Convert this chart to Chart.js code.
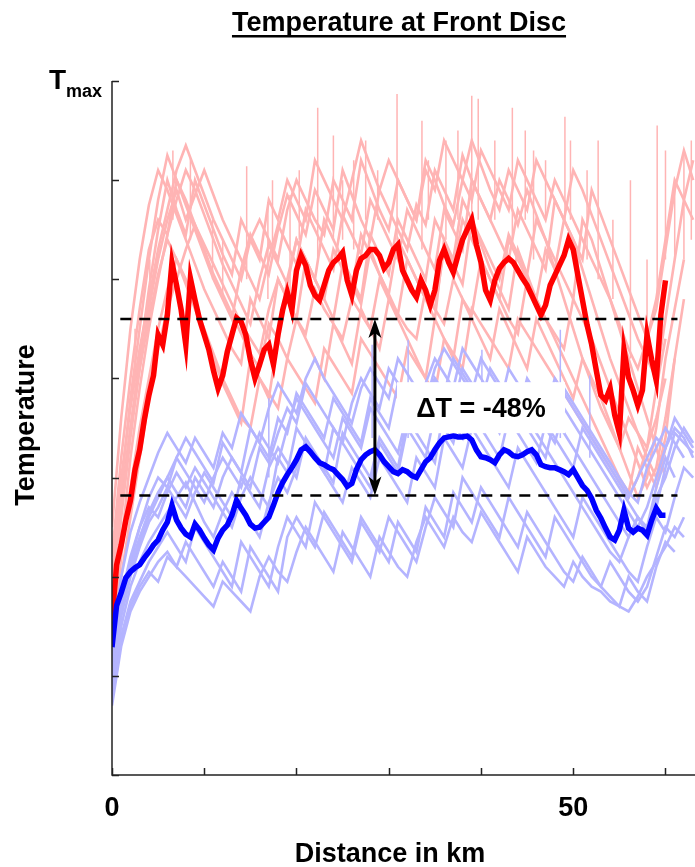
<!DOCTYPE html>
<html>
<head>
<meta charset="utf-8">
<script src="https://cdn.jsdelivr.net/npm/chart.js@4.4.0/dist/chart.umd.min.js"></script>
<style>
    html, body { margin: 0; padding: 0; background: #ffffff; }
    canvas { display: block; }
</style>
</head>
<body>
<canvas id="frontDiscChart" width="695" height="867"></canvas>
<script>
// ---- distance grids (km) ----
const distFine = [
    0, 0.5, 1, 1.5, 2, 2.5, 3, 3.5, 4, 4.5, 5, 5.5, 6, 6.5, 7, 7.5, 8, 8.5, 9, 9.5,
    10, 10.5, 11, 11.5, 12, 12.5, 13, 13.5, 14, 14.5, 15, 15.5, 16, 16.5, 17, 17.5, 18, 18.5, 19, 19.5,
    20, 20.5, 21, 21.5, 22, 22.5, 23, 23.5, 24, 24.5, 25, 25.5, 26, 26.5, 27, 27.5, 28, 28.5, 29, 29.5,
    30, 30.5, 31, 31.5, 32, 32.5, 33, 33.5, 34, 34.5, 35, 35.5, 36, 36.5, 37, 37.5, 38, 38.5, 39, 39.5,
    40, 40.5, 41, 41.5, 42, 42.5, 43, 43.5, 44, 44.5, 45, 45.5, 46, 46.5, 47, 47.5, 48, 48.5, 49, 49.5,
    50, 50.5, 51, 51.5, 52, 52.5, 53, 53.5, 54, 54.5, 55, 55.5, 56, 56.5, 57, 57.5, 58, 58.5, 59, 59.5,
    60,
];
const distKm = [
    0, 1, 2, 3, 4, 5, 6, 7, 8, 9, 10, 11, 12, 13, 14, 15, 16, 17, 18, 19,
    20, 21, 22, 23, 24, 25, 26, 27, 28, 29, 30, 31, 32, 33, 34, 35, 36, 37, 38, 39,
    40, 41, 42, 43, 44, 45, 46, 47, 48, 49, 50, 51, 52, 53, 54, 55, 56, 57, 58, 59,
    60, 61, 62, 63,
];

// ---- highlighted runs (temperature, T_max = 700) ----
const redMain = [
    156, 212, 232, 257, 277, 308, 328, 358, 383, 403,
    444, 434, 464, 517, 494, 469, 434, 501, 479, 459,
    444, 429, 408, 390, 403, 427, 444, 461, 457, 444,
    419, 400, 414, 429, 434, 414, 444, 469, 487, 469,
    509, 524, 514, 494, 484, 479, 494, 509, 517, 521,
    527, 499, 484, 509, 521, 524, 530, 530, 524, 511,
    517, 530, 535, 509, 499, 489, 482, 499, 489, 474,
    489, 519, 530, 517, 507, 524, 540, 550, 560, 535,
    517, 489, 479, 499, 511, 517, 521, 517, 509, 501,
    494, 484, 474, 464, 474, 494, 504, 514, 524, 540,
    530, 504, 479, 454, 434, 408, 383, 378, 390, 363,
    345, 429, 401, 388, 373, 388, 444, 419, 398, 464,
    499,
];
const blueMain = [
    129, 171, 184, 199, 205, 209, 212, 219, 225, 232,
    237, 247, 255, 272, 257, 249, 243, 240, 253, 247,
    239, 232, 227, 239, 247, 252, 262, 277, 269, 262,
    253, 249, 250, 255, 260, 272, 285, 295, 303, 310,
    318, 328, 331, 326, 320, 315, 313, 310, 308, 303,
    298, 291, 294, 308, 318, 323, 326, 328, 323, 316,
    311, 306, 304, 308, 306, 302, 300, 308, 316, 320,
    328, 335, 340, 341, 342, 341, 341, 342, 338, 328,
    321, 320, 318, 315, 323, 328, 326, 322, 321, 323,
    326, 328, 323, 313, 311, 310, 310, 308, 306, 303,
    308, 300, 292, 287, 279, 267, 259, 249, 240, 237,
    247, 267, 249, 245, 249, 247, 242, 257, 269, 262,
    262,
];

// ---- other runs, conventional disc (per km) ----
const redRun1 = [
    180, 290, 380, 450, 520, 580, 625, 600, 575, 550,
    525, 500, 480, 460, 510, 545, 525, 505, 550, 585,
    565, 545, 590, 570, 550, 610, 585, 560, 540, 590,
    570, 550, 530, 575, 555, 610, 590, 570, 625, 600,
    580, 560, 600, 580, 555, 590, 565, 540, 510, 480,
    450, 420, 395, 370, 350, 330, 360, 345, 330, 390,
    440,
];
const redRun2 = [
    140, 230, 320, 390, 450, 500, 545, 580, 610, 590,
    565, 540, 515, 495, 475, 455, 500, 535, 515, 495,
    540, 520, 500, 480, 530, 510, 490, 545, 525, 505,
    485, 540, 520, 500, 480, 470, 530, 510, 560, 540,
    520, 500, 480, 540, 520, 500, 480, 530, 510, 560,
    540, 510, 480, 450, 420, 395, 370, 345, 320, 300,
    340, 420, 480,
];
const redRun3 = [
    250, 360, 450, 520, 575, 610, 590, 565, 540, 515,
    490, 470, 450, 430, 415, 480, 460, 440, 500, 480,
    460, 520, 500, 480, 460, 515, 495, 475, 530, 505,
    485, 465, 520, 500, 480, 460, 540, 515, 495, 560,
    535, 510, 490, 470, 530, 505, 480, 460, 440, 420,
    400, 380, 360, 340, 320, 300, 285, 330, 310, 290,
    330,
];
const redRun4 = [
    200, 300, 370, 430, 480, 530, 570, 610, 635, 610,
    585, 560, 540, 520, 500, 540, 560, 540, 520, 570,
    600, 580, 560, 545, 600, 580, 560, 620, 595, 570,
    550, 600, 580, 560, 620, 600, 575, 555, 600, 640,
    615, 590, 570, 610, 590, 570, 620, 600, 580, 560,
    610, 590, 565, 540, 515, 490, 465, 440, 420, 400,
    460, 520, 580, 620,
];
const redRun5 = [
    120, 200, 260, 320, 380, 430, 470, 500, 530, 555,
    535, 515, 495, 475, 455, 440, 425, 470, 500, 480,
    460, 445, 490, 470, 455, 440, 480, 465, 450, 500,
    480, 465, 450, 440, 490, 470, 455, 500, 480, 465,
    520, 500, 480, 460, 445, 500, 480, 460, 445, 430,
    480, 460, 440, 415, 390, 365, 340, 315, 290, 310,
    360, 420,
];
const redRun6 = [
    160, 260, 340, 410, 470, 520, 560, 590, 560, 585,
    610, 585, 560, 540, 520, 500, 480, 520, 555, 535,
    515, 570, 550, 530, 510, 565, 545, 525, 580, 560,
    540, 520, 570, 550, 530, 510, 570, 550, 530, 600,
    580, 560, 540, 520, 570, 550, 530, 510, 580, 560,
    540, 520, 590, 565, 540, 515, 490, 465, 440, 470,
    530, 590, 630, 600,
];
const redRun7 = [
    220, 320, 400, 470, 530, 560, 545, 600, 580, 555,
    530, 505, 485, 465, 445, 425, 410, 455, 440, 500,
    540, 520, 500, 560, 540, 520, 500, 480, 545, 525,
    505, 560, 540, 520, 500, 560, 540, 520, 580, 560,
    540, 520, 500, 545, 525, 505, 560, 540, 520, 500,
    480, 560, 540, 510, 480, 450, 420, 390, 360, 330,
    300,
];
const redRun8 = [
    170, 270, 350, 420, 490, 550, 600, 570, 545, 600,
    575, 550, 525, 505, 560, 540, 520, 580, 560, 600,
    580, 560, 620, 600, 580, 560, 600, 640, 615, 590,
    620, 600, 580, 560, 610, 590, 640, 620, 600, 580,
    630, 610, 590, 570, 620, 600, 580, 560, 600, 580,
    560, 540, 520, 500, 480, 455, 430, 410, 440, 480,
    540, 600, 580, 560,
];
const redRun9 = [
    130, 220, 290, 350, 400, 450, 490, 520, 500, 475,
    450, 425, 400, 380, 360, 350, 400, 385, 370, 420,
    405, 390, 375, 430, 415, 400, 385, 440, 425, 410,
    395, 380, 430, 415, 400, 385, 440, 425, 410, 470,
    455, 440, 425, 410, 460, 445, 430, 415, 400, 385,
    370, 355, 340, 325, 310, 295, 280, 300, 330, 360,
    400,
];
const redRun10 = [
    190, 280, 350, 410, 460, 505, 540, 520, 495, 470,
    445, 420, 395, 375, 355, 420, 400, 380, 440, 420,
    460, 440, 420, 400, 455, 435, 415, 470, 450, 430,
    480, 460, 440, 420, 400, 460, 440, 420, 480, 460,
    440, 420, 470, 450, 430, 410, 460, 440, 420, 400,
    380, 420, 400, 380, 355, 330, 305, 280, 300, 350,
    420, 470, 520,
];

// ---- other runs, new disc (per km) ----
const blueRun1 = [
    110, 170, 210, 240, 265, 285, 300, 320, 305, 290,
    275, 300, 320, 305, 290, 320, 345, 330, 315, 350,
    380, 365, 350, 335, 320, 360, 345, 330, 370, 355,
    340, 325, 365, 350, 380, 400, 385, 370, 410, 395,
    380, 365, 350, 390, 375, 360, 345, 330, 315, 300,
    285, 270, 255, 240, 225, 215, 240, 260, 250, 290,
    320, 300,
];
const blueRun2 = [
    90, 150, 190, 215, 235, 250, 265, 280, 295, 275,
    255, 240, 265, 285, 270, 255, 240, 275, 300, 285,
    310, 335, 320, 305, 290, 275, 310, 295, 280, 320,
    305, 290, 275, 320, 305, 290, 340, 325, 310, 350,
    335, 320, 305, 290, 330, 315, 300, 285, 270, 255,
    240, 280, 265, 250, 235, 220, 205, 195, 230, 260,
    245, 280, 310, 300,
];
const blueRun3 = [
    130, 200, 245, 275, 300, 325, 345, 330, 315, 340,
    325, 310, 345, 330, 365, 350, 335, 370, 395, 380,
    365, 400, 420, 400, 385, 370, 355, 390, 410, 395,
    380, 420, 405, 390, 375, 410, 430, 415, 400, 385,
    420, 405, 390, 375, 360, 395, 380, 365, 400, 385,
    370, 355, 340, 325, 310, 295, 280, 300, 320, 340,
    330, 350, 340, 320,
];
const blueRun4 = [
    70, 130, 165, 185, 200, 215, 225, 210, 235, 220,
    205, 190, 215, 200, 185, 230, 215, 200, 185, 240,
    260, 245, 230, 265, 250, 235, 220, 260, 245, 230,
    215, 255, 240, 225, 270, 255, 240, 285, 270, 255,
    290, 275, 260, 245, 230, 265, 250, 235, 220, 205,
    195, 220, 205, 190, 180, 170, 200, 185, 175, 210,
    235, 225,
];
const blueRun5 = [
    100, 160, 200, 230, 255, 270, 290, 275, 260, 285,
    305, 290, 275, 260, 300, 285, 270, 310, 330, 315,
    300, 340, 325, 310, 295, 345, 330, 315, 300, 340,
    325, 310, 360, 345, 330, 315, 370, 355, 340, 390,
    375, 360, 345, 380, 365, 350, 335, 320, 360, 345,
    330, 315, 300, 285, 270, 255, 240, 260, 245, 280,
    300, 330, 350, 335,
];
const blueRun6 = [
    120, 180, 220, 250, 280, 300, 290, 320, 340, 325,
    310, 295, 335, 320, 305, 350, 335, 320, 360, 345,
    385, 370, 355, 340, 380, 365, 350, 335, 380, 365,
    350, 395, 380, 365, 350, 400, 385, 420, 405, 390,
    375, 410, 395, 380, 365, 400, 385, 370, 355, 390,
    375, 360, 345, 330, 315, 300, 285, 275, 310, 330,
    350, 335, 320,
];
const blueRun7 = [
    80, 140, 175, 195, 215, 230, 245, 230, 215, 250,
    235, 220, 205, 190, 235, 220, 205, 190, 230, 260,
    245, 230, 275, 260, 245, 230, 215, 255, 240, 225,
    260, 245, 230, 215, 250, 280, 265, 250, 300, 285,
    270, 255, 240, 280, 265, 250, 235, 220, 260, 245,
    230, 215, 200, 190, 215, 200, 185, 175, 190, 220,
    250, 240, 260,
];
const blueRun8 = [
    105, 175, 215, 250, 270, 260, 285, 305, 290, 310,
    295, 280, 265, 250, 280, 300, 285, 270, 320, 305,
    350, 335, 320, 305, 350, 335, 320, 305, 290, 335,
    320, 305, 350, 335, 320, 365, 350, 335, 380, 365,
    350, 335, 320, 360, 345, 330, 315, 355, 340, 325,
    310, 350, 335, 320, 305, 290, 275, 260, 245, 270,
    310, 345, 335, 325,
];
const blueRun9 = [
    95, 165, 205, 235, 260, 280, 300, 285, 270, 300,
    285, 270, 300, 320, 305, 290, 330, 315, 345, 370,
    355, 395, 380, 365, 350, 335, 375, 400, 385, 370,
    410, 395, 380, 365, 395, 420, 405, 390, 430, 415,
    400, 385, 370, 410, 395, 380, 365, 350, 335, 370,
    355, 340, 325, 310, 295, 280, 265, 250, 270, 300,
    330, 360, 345, 330,
];
const blueRun10 = [
    75, 135, 170, 190, 205, 195, 220, 210, 200, 190,
    180, 170, 195, 185, 175, 165, 200, 220, 205, 195,
    225, 250, 235, 220, 205, 245, 230, 215, 200, 240,
    225, 210, 200, 235, 260, 245, 230, 260, 245, 235,
    265, 250, 235, 220, 205, 240, 225, 210, 200, 190,
    215, 200, 190, 185, 175, 170, 165, 180, 200, 215,
    230, 250, 240,
];

// ---- short temperature peaks (km, base, peak) ----
const redSpikeKm = [
    2.5, 4.1, 6.6, 8.5, 10.9, 12.0, 14.6, 16.9, 17.4, 19.3, 20.3, 22.3, 24.0, 25.0, 26.2, 27.5, 28.8,
    30.9, 33.6, 34.3, 36.2, 37.5, 39.0, 39.7, 41.5, 43.4, 44.8, 45.7, 47.0, 49.1, 49.7, 51.5, 52.7,
    54.3, 56.2, 58.0, 59.1, 60.0, 61.0, 62.0, 62.8,
];
const redSpikeBase = [
    400, 460, 560, 540, 500, 480, 500, 480, 520, 480, 540, 520, 540, 540, 530, 560, 560,
    540, 530, 560, 540, 560, 560, 560, 560, 540, 560, 520, 560, 560, 560, 520, 500,
    480, 420, 430, 480, 520, 520, 520, 540,
];
const redSpikeTop = [
    450, 520, 630, 622, 560, 540, 614, 578, 600, 585, 610, 673, 645, 600, 620, 640, 610,
    687, 660, 620, 640, 650, 685, 682, 640, 673, 650, 630, 620, 664, 640, 610, 640,
    560, 600, 520, 655, 630, 600, 630, 640,
];
const blueSpikeKm = [17.0, 28.2, 32.1, 40.1, 48.6, 51.8];
const blueSpikeBase = [300, 340, 340, 350, 340, 320];
const blueSpikeTop = [380, 434, 439, 429, 449, 403];

// ---- reference levels and annotation ----
const refLevels = [460, 282];
const refRangeKm = [0.9, 61.3];
const arrowKm = 28.5;
const deltaText = 'ΔT = -48%';
const deltaPos = [40.0, 370];

// ---- axes ----
const xTicks = [0, 10, 20, 30, 40, 50, 60];
const xTickLabels = ['0', '', '', '', '', '50', ''];
const yTicks = [0, 100, 200, 300, 400, 500, 600, 700];

const redRuns = [redRun1, redRun2, redRun3, redRun4, redRun5, redRun6, redRun7, redRun8, redRun9, redRun10];
const blueRuns = [blueRun1, blueRun2, blueRun3, blueRun4, blueRun5, blueRun6, blueRun7, blueRun8, blueRun9, blueRun10];

const FONT = "'Liberation Sans', Arial, sans-serif";

/**
 * Front disc temperature chart
 */
class FrontDiscChart {
    /**
     * Pair a distance grid with a value list
     */
    static toPoints(grid, values) {
        return values.map((v, i) => ({ x: grid[i], y: v }));
    }

    /**
     * Spikes as short vertical segments separated by gaps
     */
    static toSpikes(km, base, top) {
        const pts = [];
        km.forEach((k, i) => {
            pts.push({ x: k, y: base[i] }, { x: k, y: top[i] }, { x: k, y: null });
        });
        return pts;
    }

    static lineSet(data, color, width, order, extra = {}) {
        return {
            data: data,
            borderColor: color,
            borderWidth: width,
            pointRadius: 0,
            tension: 0,
            spanGaps: false,
            order: order,
            ...extra,
        };
    }

    static buildDatasets() {
        const sets = [];
        redRuns.forEach((run) => sets.push(FrontDiscChart.lineSet(FrontDiscChart.toPoints(distKm, run), '#ffb4b4', 2.6, 60)));
        sets.push(FrontDiscChart.lineSet(FrontDiscChart.toSpikes(redSpikeKm, redSpikeBase, redSpikeTop), '#ffb4b4', 1.5, 60));
        blueRuns.forEach((run) => sets.push(FrontDiscChart.lineSet(FrontDiscChart.toPoints(distKm, run), '#b4b4ff', 2.6, 50)));
        sets.push(FrontDiscChart.lineSet(FrontDiscChart.toSpikes(blueSpikeKm, blueSpikeBase, blueSpikeTop), '#b4b4ff', 1.5, 50));
        sets.push(FrontDiscChart.lineSet(FrontDiscChart.toPoints(distFine, redMain), '#ff0000', 5.5, 20));
        sets.push(FrontDiscChart.lineSet(FrontDiscChart.toPoints(distFine, blueMain), '#0000ff', 5.5, 10));
        refLevels.forEach((lv) => {
            sets.push(FrontDiscChart.lineSet(
                [{ x: refRangeKm[0], y: lv }, { x: refRangeKm[1], y: lv }],
                '#000000', 2.5, 5, { borderDash: [11, 8] },
            ));
        });
        return sets;
    }

    /**
     * Axes, ticks, labels and the ΔT annotation
     */
    static overlay(chart) {
        const { ctx, chartArea: a, scales } = chart;
        const x = scales.x;
        const y = scales.y;
        ctx.save();

        // arrow
        const ax = x.getPixelForValue(arrowKm);
        const yTop = y.getPixelForValue(refLevels[0]);
        const yBot = y.getPixelForValue(refLevels[1]);
        ctx.strokeStyle = '#000';
        ctx.fillStyle = '#000';
        ctx.lineWidth = 3;
        ctx.beginPath();
        ctx.moveTo(ax, yTop + 10);
        ctx.lineTo(ax, yBot - 10);
        ctx.stroke();
        [[yTop, 1], [yBot, -1]].forEach(([tip, dir]) => {
            ctx.beginPath();
            ctx.moveTo(ax, tip);
            ctx.lineTo(ax - 6.5, tip + dir * 19);
            ctx.lineTo(ax, tip + dir * 14);
            ctx.lineTo(ax + 6.5, tip + dir * 19);
            ctx.closePath();
            ctx.fill();
        });

        // label box
        const bx = x.getPixelForValue(deltaPos[0]);
        const by = y.getPixelForValue(deltaPos[1]);
        ctx.fillStyle = '#ffffff';
        ctx.fillRect(bx - 84, by - 26, 168, 51);
        ctx.fillStyle = '#000';
        ctx.font = `bold 27px ${FONT}`;
        ctx.textAlign = 'center';
        ctx.textBaseline = 'middle';
        ctx.fillText(deltaText, bx, by + 1);

        // axis lines and inward ticks
        ctx.strokeStyle = '#222';
        ctx.lineWidth = 1.5;
        ctx.beginPath();
        ctx.moveTo(a.left, a.top);
        ctx.lineTo(a.left, a.bottom);
        ctx.lineTo(a.right, a.bottom);
        yTicks.forEach((v) => {
            const py = Math.round(y.getPixelForValue(v)) + 0.5;
            ctx.moveTo(a.left, py);
            ctx.lineTo(a.left + 7, py);
        });
        xTicks.forEach((k) => {
            const px = Math.round(x.getPixelForValue(k)) + 0.5;
            ctx.moveTo(px, a.bottom);
            ctx.lineTo(px, a.bottom - 7);
        });
        ctx.stroke();

        ctx.fillStyle = '#000';
        ctx.font = `bold 27px ${FONT}`;
        ctx.textAlign = 'center';
        ctx.textBaseline = 'alphabetic';
        xTicks.forEach((k, i) => {
            if (xTickLabels[i]) ctx.fillText(xTickLabels[i], x.getPixelForValue(k), 816);
        });

        // T_max
        ctx.textAlign = 'left';
        ctx.font = `bold 28px ${FONT}`;
        ctx.fillText('T', 49, 89);
        ctx.font = `bold 18px ${FONT}`;
        ctx.fillText('max', 66, 97);

        // title (underlined)
        ctx.textAlign = 'center';
        ctx.font = `bold 27px ${FONT}`;
        const title = 'Temperature at Front Disc';
        ctx.fillText(title, 399, 31);
        const tw = ctx.measureText(title).width;
        ctx.fillRect(399 - tw / 2, 35, tw, 2.5);

        // axis titles
        ctx.fillText('Distance in km', 390, 862);
        ctx.translate(34, 425);
        ctx.rotate(-Math.PI / 2);
        ctx.fillText('Temperature', 0, 0);

        ctx.restore();
    }

    static draw() {
        const canvas = document.querySelector('#frontDiscChart');
        return new Chart(canvas.getContext('2d'), {
            type: 'line',
            data: { datasets: FrontDiscChart.buildDatasets() },
            options: {
                responsive: false,
                animation: false,
                events: [],
                layout: { padding: { left: 112, right: 0, top: 81, bottom: 92 } },
                scales: {
                    x: { type: 'linear', min: 0, max: 63.2, display: false },
                    y: { type: 'linear', min: 0, max: 700, display: false },
                },
                plugins: {
                    legend: { display: false },
                    tooltip: { enabled: false },
                    title: { display: false },
                },
            },
            plugins: [{ id: 'frontDiscOverlay', afterDatasetsDraw: (chart) => FrontDiscChart.overlay(chart) }],
        });
    }
}

FrontDiscChart.draw();
</script>
</body>
</html>
